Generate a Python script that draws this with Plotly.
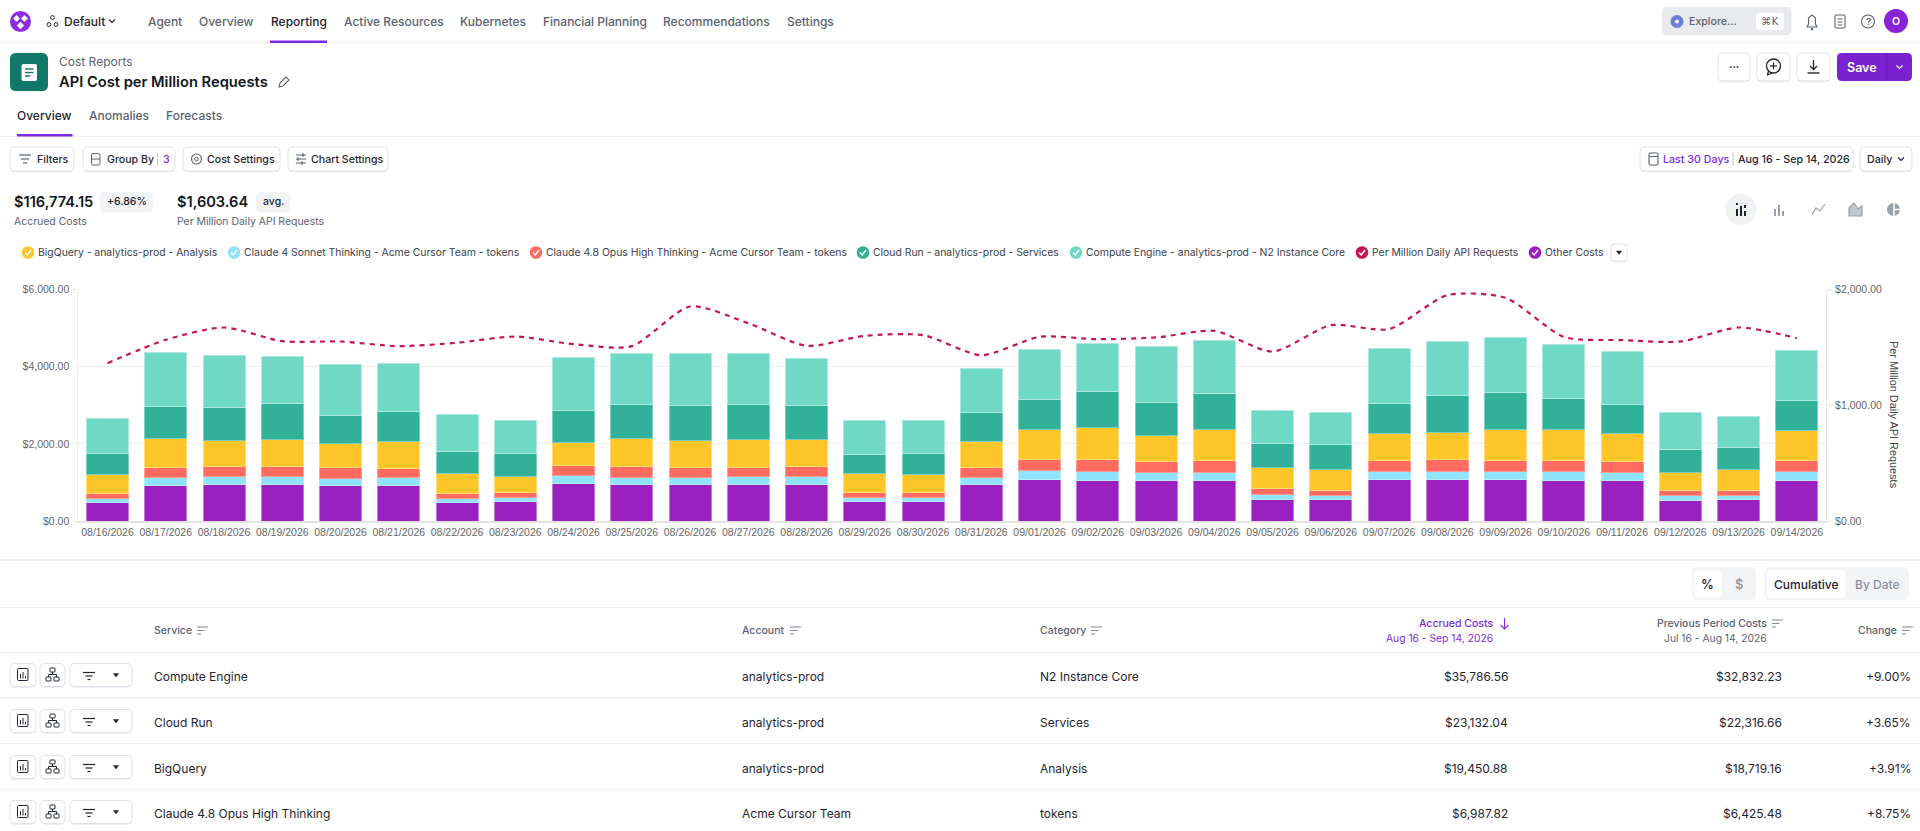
import plotly.graph_objects as go

W, H = 1920, 831

# ---------- data ----------
dates = ["08/16/2026","08/17/2026","08/18/2026","08/19/2026","08/20/2026","08/21/2026","08/22/2026","08/23/2026",
         "08/24/2026","08/25/2026","08/26/2026","08/27/2026","08/28/2026","08/29/2026","08/30/2026","08/31/2026",
         "09/01/2026","09/02/2026","09/03/2026","09/04/2026","09/05/2026","09/06/2026","09/07/2026","09/08/2026",
         "09/09/2026","09/10/2026","09/11/2026","09/12/2026","09/13/2026","09/14/2026"]
other_costs = [492,924,941,950,915,932,492,501,976,941,941,950,958,501,501,941,1070,1062,1045,1053,561,553,1070,1070,1070,1053,1045,535,553,1062]
sonnet = [104,207,216,207,199,199,104,104,207,199,190,207,199,112,112,190,242,224,216,216,121,112,216,216,224,224,216,121,112,224]
opus = [130,250,259,259,268,242,130,138,259,268,250,242,250,130,130,259,294,302,294,294,155,138,276,302,276,294,294,138,138,285]
bigquery = [483,768,673,699,630,691,518,414,604,725,699,717,717,492,458,673,768,837,673,803,544,535,708,708,794,812,708,466,527,768]
cloud_run = [535,829,855,924,725,777,561,587,812,881,915,898,872,501,544,742,777,924,855,941,622,647,786,967,976,786,768,587,570,777]
compute_engine = [915,1390,1355,1235,1321,1235,950,872,1390,1321,1347,1338,1217,863,863,1148,1286,1243,1450,1364,872,837,1416,1399,1416,1416,1364,967,820,1312]
per_million = [1364,1566,1672,1554,1551,1511,1540,1594,1528,1511,1853,1709,1514,1600,1606,1433,1591,1571,1586,1643,1465,1692,1658,1951,1928,1591,1563,1551,1672,1580]

left_ticks = [0, 2000, 4000, 6000]
left_labels = ["$0.00", "$2,000.00", "$4,000.00", "$6,000.00"]
right_ticks = [0, 1000, 2000]
right_labels = ["$0.00", "$1,000.00", "$2,000.00"]

series_names = ["Other Costs", "Claude 4 Sonnet Thinking - Acme Cursor Team - tokens",
                "Claude 4.8 Opus High Thinking - Acme Cursor Team - tokens", "BigQuery - analytics-prod - Analysis",
                "Cloud Run - analytics-prod - Services", "Compute Engine - analytics-prod - N2 Instance Core"]
series_values = [other_costs, sonnet, opus, bigquery, cloud_run, compute_engine]
series_colors = ["#9b20c0", "#90e3fc", "#ff6b5e", "#ffc629", "#31b09a", "#70d9c5"]
series_edges = ["#c07ada", "#b5ecfd", "#ff9a90", "#ffdb7a", "#7dd0c0", "#aeeadf"]
line_color = "#c4145a"

table_service = ["Compute Engine", "Cloud Run", "BigQuery", "Claude 4.8 Opus High Thinking"]
table_account = ["analytics-prod", "analytics-prod", "analytics-prod", "Acme Cursor Team"]
table_category = ["N2 Instance Core", "Services", "Analysis", "tokens"]
table_accrued = ["$35,786.56", "$23,132.04", "$19,450.88", "$6,987.82"]
table_previous = ["$32,832.23", "$22,316.66", "$18,719.16", "$6,425.48"]
table_change = ["+9.00%", "+3.65%", "+3.91%", "+8.75%"]

# ---------- figure ----------
fig = go.Figure()
for name, vals, col, edge in zip(series_names, series_values, series_colors, series_edges):
    fig.add_trace(go.Bar(x=dates, y=vals, name=name, marker=dict(color=col, line=dict(color=edge, width=1)), width=0.72))
fig.add_trace(go.Scatter(x=dates, y=per_million, yaxis="y2", mode="lines", name="Per Million Daily API Requests",
                         line=dict(color=line_color, width=2.2, dash="5px,5px", shape="spline", smoothing=0.7)))

X = lambda v: v / W
Y = lambda v: 1 - v / H
PLOT_L, PLOT_R, PLOT_T, PLOT_B = 78.4, 1826, 289.5, 521.2
UI = "Inter"
CHART = "Liberation Sans"
PURPLE = "#7c2ae8"
INK = "#1f2430"
GREY = "#5b6270"
BORDER = "#dfe2e8"
shapes, notes = [], []


def T(x, y, s, size=13, color=INK, anchor="left", weight=400, font=UI, angle=0):
    notes.append(dict(x=X(x), y=Y(y), xref="paper", yref="paper", text=s, showarrow=False, xanchor=anchor, yanchor="middle",
                      borderpad=0, borderwidth=0, textangle=angle, font=dict(family=font, size=size, color=color, weight=weight)))


def path(d, fill=None, line=None, lw=1):
    s = dict(type="path", path=d, xref="paper", yref="paper", layer="above", line=dict(width=lw if line else 0, color=line or "rgba(0,0,0,0)"))
    s["fillcolor"] = fill or "rgba(0,0,0,0)"
    shapes.append(s)


def P(x, y):
    return f"{X(x):.5f},{Y(y):.5f}"


def R(x0, y0, x1, y1, fill=None, line=None, r=0, lw=1):
    if r == 0:
        d = f"M{P(x0,y0)} L{P(x1,y0)} L{P(x1,y1)} L{P(x0,y1)} Z"
    else:
        d = (f"M{P(x0+r,y0)} L{P(x1-r,y0)} Q{P(x1,y0)} {P(x1,y0+r)} L{P(x1,y1-r)} Q{P(x1,y1)} {P(x1-r,y1)} "
             f"L{P(x0+r,y1)} Q{P(x0,y1)} {P(x0,y1-r)} L{P(x0,y0+r)} Q{P(x0,y0)} {P(x0+r,y0)} Z")
    path(d, fill, line, lw)


def C(cx, cy, r, fill=None, line=None, lw=1):
    shapes.append(dict(type="circle", xref="paper", yref="paper", layer="above", x0=X(cx-r), x1=X(cx+r), y0=Y(cy+r), y1=Y(cy-r),
                       fillcolor=fill or "rgba(0,0,0,0)", line=dict(width=lw if line else 0, color=line or "rgba(0,0,0,0)")))


def L(pts, color=GREY, lw=1.2, fill=None, close=False):
    d = "M" + " L".join(P(a, b) for a, b in pts) + (" Z" if close else "")
    path(d, fill, color, lw)


def sort_icon(x, y, color="#8a909c"):
    L([(x, y-3.5), (x+11, y-3.5)], color, 1.1)
    L([(x, y), (x+7.5, y)], color, 1.1)
    L([(x, y+3.5), (x+4, y+3.5)], color, 1.1)


def chevron(x, y, color=INK, s=3):
    L([(x-s, y-s/2), (x, y+s/2), (x+s, y-s/2)], color, 1.2)


def caret(x, y, color=INK, s=3):
    L([(x-s, y-1.5), (x+s, y-1.5), (x, y+2)], color, 0.5, fill=color, close=True)


def button(x0, y0, x1, y1, r=5):
    R(x0, y0+1.2, x1, y1+1.2, "#e6e9ee", None, r)
    R(x0, y0, x1, y1, "#ffffff", BORDER, r)


# ---- top bar
C(20.5, 21.5, 10.5, "#8a2be2")
for cx, cy, s in [(16.5, 18.5, 3.2), (24.5, 18.5, 3.2), (20.5, 25.5, 3.4)]:
    L([(cx, cy-s), (cx+s, cy), (cx, cy+s), (cx-s, cy)], "#ffffff", 0.5, fill="#ffffff", close=True)
C(52.5, 17.5, 1.9, None, INK, 1)
C(49, 24.5, 1.9, None, INK, 1)
C(56, 24.5, 1.9, None, INK, 1)
T(63.5, 21.5, "Default", 12, INK, weight=500)
chevron(112, 21, INK)
for x, s, c, w in [(148, "Agent", GREY, 500), (199, "Overview", GREY, 500), (270.5, "Reporting", INK, 500), (344, "Active Resources", GREY, 500),
                   (460, "Kubernetes", GREY, 500), (543, "Financial Planning", GREY, 500), (663, "Recommendations", GREY, 500), (787, "Settings", GREY, 500)]:
    T(x, 21.5, s, 12, c, weight=w)
R(0, 42, W, 43, "#eef0f3")
R(270, 40.5, 327, 43, PURPLE, None, 0)

R(1662, 7, 1791.5, 35, "#e8eaee", None, 5)
C(1677, 21.5, 6.5, "#6c7fd1")
C(1677, 21.5, 2, "#ffffff")
T(1689, 21.5, "Explore...", 10.6, GREY, weight=500)
R(1756, 13, 1784, 30, "#ffffff", None, 3)
T(1770, 21.5, "⌘K", 10.5, GREY, "center", 500, "DejaVu Sans")
# bell / doc / help icons
L([(1812, 15), (1815.5, 18), (1815.5, 24), (1817, 27), (1807, 27), (1808.5, 24), (1808.5, 18)], GREY, 1.1, close=True)
C(1812, 29, 1.2, GREY)
R(1835, 15, 1845, 28, None, GREY, 1.5, 1.1)
L([(1837.5, 19), (1842.5, 19)], GREY, 1)
L([(1837.5, 22), (1842.5, 22)], GREY, 1)
L([(1837.5, 25), (1842.5, 25)], GREY, 1)
C(1868, 21.5, 6.5, None, GREY, 1.1)
T(1868, 21.5, "?", 9.5, GREY, "center", 600)
C(1896, 21, 12, "#8a22d8")
T(1896, 21, "O", 10.5, "#ffffff", "center", 600)

# ---- title row
R(10, 53, 48, 91, "#10786a", None, 6)
R(21.5, 64, 37, 81, "#ffffff", None, 2)
for yy, xe in [(69, 33.5), (72.5, 33.5), (76, 30.5)]:
    L([(25, yy), (xe, yy)], "#10786a", 1.4)
T(59, 61, "Cost Reports", 12, GREY, weight=400)
T(59, 82, "API Cost per Million Requests", 14.7, "#12151c", weight=600)
L([(279, 87), (280, 83), (286, 77), (289, 80), (283, 86)], GREY, 1.1, close=True)

button(1718, 53, 1750, 81)
T(1734, 66.5, "•••", 6, INK, "center", 400)
button(1757, 53, 1790, 81)
C(1773.5, 66, 7, None, INK, 1.3)
L([(1768.5, 71), (1767.5, 75), (1772, 73)], INK, 1.2)
L([(1773.5, 62.5), (1773.5, 69.5)], INK, 1.2)
L([(1770, 66), (1777, 66)], INK, 1.2)
button(1797, 53, 1830, 81)
L([(1813.5, 60), (1813.5, 69)], INK, 1.3)
L([(1810, 66), (1813.5, 69.5), (1817, 66)], INK, 1.3)
L([(1807.5, 73), (1819.5, 73)], INK, 1.4)
R(1837, 53, 1912, 81, "#7a22cf", None, 5)
L([(1887, 53), (1887, 81)], "#6a1bb6", 1)
T(1862, 67, "Save", 12.5, "#ffffff", "center", 600)
chevron(1899.5, 67, "#ffffff")

# ---- tabs
T(17, 115.5, "Overview", 12, INK, weight=500)
T(89, 115.5, "Anomalies", 12, GREY, weight=500)
T(166, 115.5, "Forecasts", 12, GREY, weight=500)
R(0, 136, W, 137, "#eef0f3")
R(17, 134, 72.5, 136.5, PURPLE)

# ---- tool buttons
button(10, 147, 74, 171)
L([(19, 155), (31, 155)], GREY, 1.2); L([(21, 159), (29, 159)], GREY, 1.2); L([(23, 163), (27, 163)], GREY, 1.2)
T(37, 159, "Filters", 10.6, INK, weight=500)
button(83, 147, 175, 171)
R(91.5, 153.5, 100, 165, None, GREY, 1.5, 1)
L([(91.5, 159), (100, 159)], GREY, 1)
T(106.5, 159, "Group By", 10.6, INK, weight=500)
L([(157.5, 153), (157.5, 165)], "#c6c9d0", 1)
T(163, 159, "3", 10.6, PURPLE, weight=500)
button(183, 147, 280, 171)
C(196.5, 159, 5, None, GREY, 1.1)
C(196.5, 159, 1.8, None, GREY, 1)
T(207, 159, "Cost Settings", 10.6, INK, weight=500)
button(288, 147, 388, 171)
for yy, xm in [(155, 303), (159, 298), (163, 302)]:
    L([(296, yy), (306, yy)], GREY, 1)
    L([(xm, yy-1.7), (xm, yy+1.7)], GREY, 1.3)
T(311, 159, "Chart Settings", 10.6, INK, weight=500)

button(1640, 147, 1853, 171)
R(1649, 153, 1658, 165, None, GREY, 1.2, 1.1)
L([(1649, 156.5), (1658, 156.5)], GREY, 1)
T(1663, 159, "Last 30 Days", 10.7, PURPLE, weight=500)
L([(1733, 152), (1733, 166)], "#c6c9d0", 1)
T(1738, 159, "Aug 16 - Sep 14, 2026", 10.7, INK, weight=500)
button(1860, 147, 1912, 171)
T(1867, 159, "Daily", 10.7, INK, weight=500)
chevron(1901, 159, INK)

# ---- KPIs
T(14, 202, "$116,774.15", 14.6, "#12151c", weight=600)
R(100, 192, 153, 212.5, "#f2f3f5", None, 5)
T(126.5, 202, "+6.86%", 10.5, INK, "center", 500)
T(177, 202, "$1,603.64", 14.6, "#12151c", weight=600)
R(256, 192, 290, 212.5, "#f2f3f5", None, 5)
T(273, 202, "avg.", 10.5, INK, "center", 500)
T(14, 221.5, "Accrued Costs", 10.45, GREY)
T(177, 221.5, "Per Million Daily API Requests", 10.45, GREY)

# ---- chart type icons
C(1741, 209.5, 15.5, "#f0f1f3")
for xx, h in [(1737, 7), (1741, 10), (1745, 5)]:
    L([(xx, 216), (xx, 216-h)], INK, 2)
L([(1737, 205), (1737, 203)], INK, 2); L([(1745, 208), (1745, 205)], INK, 2)
for xx, h in [(1775, 7), (1779, 11), (1783, 5)]:
    L([(xx, 216), (xx, 216-h)], "#9aa0ac", 2)
L([(1812, 215), (1816, 208), (1820, 211), (1825, 204)], "#9aa0ac", 1.2)
L([(1849, 216), (1849, 208), (1854, 203), (1858, 209), (1862, 206), (1862, 216)], "#9aa0ac", 1.2, fill="#c3c7cf", close=True)
C(1893.5, 209.5, 6.5, "#9aa0ac")
L([(1894, 203), (1894, 216)], "#ffffff", 1.5)
L([(1894, 209.5), (1900, 209.5)], "#ffffff", 1.5)

# ---- legend row
legend_items = [(28, 38, series_names[3], series_colors[3]), (234, 244, series_names[1], series_colors[1]),
                (536, 546, series_names[2], series_colors[2]), (863, 873, series_names[4], series_colors[4]),
                (1076, 1086, series_names[5], series_colors[5]), (1362, 1371.5, "Per Million Daily API Requests", line_color),
                (1535, 1545, series_names[0], series_colors[0])]
for cx, tx, s, col in legend_items:
    C(cx, 252.5, 6.3, col)
    L([(cx-3, 252.5), (cx-0.8, 255), (cx+3, 250)], "#ffffff", 1.4)
    T(tx, 252.5, s, 10.4, "#3a404c")
button(1611, 244, 1627, 261, 3)
caret(1619, 252.5, INK, 2.6)

# ---- table chrome
R(0, 559, W, 561, "#eef0f3")
R(1692, 567, 1756, 600, "#f3f4f6", None, 6)
R(1693.5, 571, 1722, 597, "#ffffff", None, 4)
T(1707.5, 584, "%", 13, INK, "center", 500)
T(1739, 584, "$", 13, "#8a909c", "center", 500)
R(1764, 567, 1909, 600, "#f3f4f6", None, 6)
R(1767, 570, 1845, 598, "#ffffff", None, 4)
T(1806, 584, "Cumulative", 12, INK, "center", 500)
T(1877, 584, "By Date", 12, "#8a909c", "center", 500)
R(0, 607, W, 608, "#eceef1")
R(0, 652, W, 653.5, "#eceef1")
R(0, 697, W, 699, "#f0f1f3")
R(0, 743, W, 744, "#f0f1f3")
R(0, 789, W, 790, "#f0f1f3")

T(153.5, 630.5, "Service", 10.5, GREY, weight=500)
sort_icon(197, 630.5)
T(742, 630.5, "Account", 10.5, GREY, weight=500)
sort_icon(790, 630.5)
T(1040, 630.5, "Category", 10.5, GREY, weight=500)
sort_icon(1091, 630.5)
T(1493, 623.5, "Accrued Costs", 10.5, PURPLE, "right", 500)
L([(1504.5, 618), (1504.5, 629)], PURPLE, 1.1)
L([(1500.5, 625), (1504.5, 629), (1508.5, 625)], PURPLE, 1.1)
T(1493, 637.5, "Aug 16 - Sep 14, 2026", 10.3, PURPLE, "right")
T(1766.5, 623.5, "Previous Period Costs", 10.45, GREY, "right", 500)
sort_icon(1772, 623.5)
T(1766.5, 637.5, "Jul 16 - Aug 14, 2026", 10.3, GREY, "right")
T(1897, 630.5, "Change", 10.5, GREY, "right", 500)
sort_icon(1902, 630.5)

row_ys = [676, 722, 768, 813]
for i, ry in enumerate(row_ys):
    T(153.5, ry, table_service[i], 12, INK)
    T(742, ry, table_account[i], 12, INK)
    T(1040, ry, table_category[i], 12, INK)
    T(1508, ry, table_accrued[i], 12, INK, "right")
    T(1782, ry, table_previous[i], 12, INK, "right")
    T(1911, ry, table_change[i], 12, INK, "right")
    button(10, ry-12.5, 36, ry+10.5)
    button(40, ry-12.5, 65, ry+10.5)
    button(70, ry-12.5, 132, ry+10.5)
    R(17.5, ry-7.5, 28, ry+4.5, None, INK, 1, 1)
    L([(20.5, ry+2.5), (20.5, ry-2)], INK, 1); L([(23, ry+2.5), (23, ry-4)], INK, 1); L([(25.5, ry+2.5), (25.5, ry)], INK, 1)
    R(50, ry-8, 55, ry-4, None, INK, 0.5, 1)
    R(46, ry+1, 51, ry+5, None, INK, 0.5, 1)
    R(54, ry+1, 59, ry+5, None, INK, 0.5, 1)
    L([(52.5, ry-4), (52.5, ry-1.5)], INK, 1); L([(48.5, ry+1), (48.5, ry-1.5), (56.5, ry-1.5), (56.5, ry+1)], INK, 1)
    L([(83, ry-3.5), (95, ry-3.5)], INK, 1.2); L([(85.5, ry), (92.5, ry)], INK, 1.2); L([(87.5, ry+3.5), (90.5, ry+3.5)], INK, 1.2)
    caret(116, ry-1, INK, 2.6)

# right axis title, placed as in the reference
T(1894, 415, "Per Million Daily API Requests", 10.9, "#444444", "center", 400, CHART, 90)

axis_font = dict(family=CHART, size=10.5, color="#666666")
fig.update_layout(
    width=W, height=H, margin=dict(l=0, r=0, t=0, b=0, autoexpand=False), paper_bgcolor="#ffffff", plot_bgcolor="#ffffff",
    barmode="stack", showlegend=False, hovermode=False, shapes=shapes, annotations=notes,
    xaxis=dict(domain=[X(PLOT_L), X(PLOT_R)], type="category", categoryorder="array", categoryarray=dates, range=[-0.5, 29.5],
               showgrid=False, zeroline=False, showline=True, linecolor="#e4e4e4", linewidth=1.5, ticks="", tickangle=0,
               tickmode="array", tickvals=dates, ticktext=dates, tickfont=axis_font, anchor="y", automargin=False),
    yaxis=dict(domain=[Y(PLOT_B), Y(PLOT_T)], range=[0, 6000], tickmode="array", tickvals=left_ticks, ticktext=left_labels,
               tickfont=axis_font, showgrid=True, gridcolor="#eeeeee", gridwidth=1, zeroline=False, showline=True, linecolor="#eeeeee",
               ticks="outside", ticklen=6, tickcolor="#eeeeee", automargin=False),
    yaxis2=dict(domain=[Y(PLOT_B), Y(PLOT_T)], range=[0, 2000], overlaying="y", side="right", tickmode="array", tickvals=right_ticks,
                ticktext=right_labels, tickfont=axis_font, showgrid=False, zeroline=False, showline=True, linecolor="#e8e8e8",
                ticks="outside", ticklen=6, tickcolor="#e8e8e8", automargin=False),
)
fig.write_html("out.html", config={"displayModeBar": False},
               post_script="document.body.style.margin='0';document.body.style.overflow='hidden';")
